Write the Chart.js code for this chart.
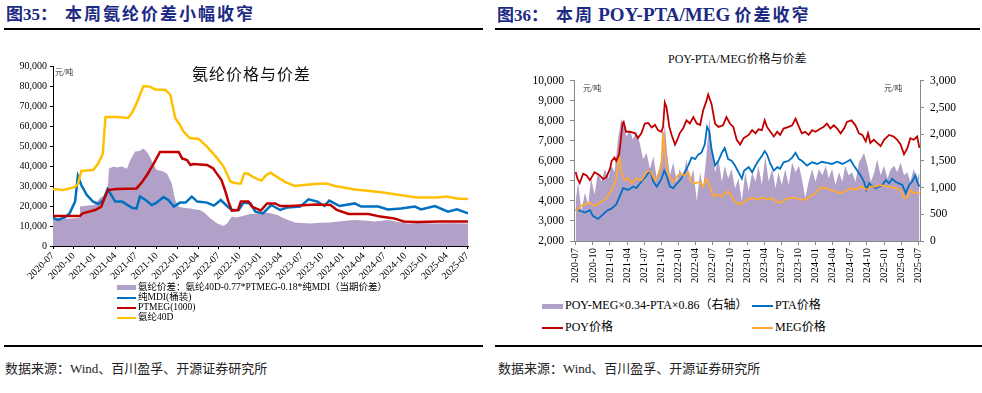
<!DOCTYPE html>
<html lang="zh">
<head>
<meta charset="UTF-8">
<title>氨纶与POY价差</title>
<script src="https://cdn.jsdelivr.net/npm/chart.js"></script>
<style>
  body { margin: 0; width: 982px; height: 393px; background: #fff; position: relative; overflow: hidden;
         font-family: 'Liberation Serif', 'Noto Sans CJK SC', serif; }
  .abs { position: absolute; white-space: nowrap; }
  .fig-title { top: 5px; font-size: 17px; font-weight: bold; color: #1c2a84; line-height: 20px; }
  .fig-title .cn { letter-spacing: 2px; }
  .fig-title .gap { margin-left: 8px; }
  .fig-title .en { font-size: 19px; }
  .rule { position: absolute; height: 2px; background: #000; }
  .src { top: 358px; font-size: 13px; color: #222; }
  .unit { font-size: 8px; color: #333; }
  .leg { font-size: 9.5px; color: #000; line-height: 10px; }
  .leg2 { font-size: 12px; color: #000; line-height: 14px; }
  .sw { display: inline-block; vertical-align: middle; margin-right: 2px; }
</style>
</head>
<body>
  <!-- 左: 图35 -->
  <div class="abs fig-title" style="left:6px;">图35：<span class="cn gap">本周氨纶价差小幅收窄</span></div>
  <div class="rule" style="left:4px; top:28px; width:479px;"></div>
  <canvas id="leftChart" class="abs" width="480" height="234" style="left:0; top:56px;"></canvas>
  <div class="abs" style="left:192px; top:61px; font-size:16px; font-family:'Noto Sans CJK SC'; color:#111; letter-spacing:1px;">氨纶价格与价差</div>
  <div class="abs unit" style="left:55px; top:66px;">元/吨</div>
  <div class="abs leg" style="left:117px; top:282px;">
    <div><span class="sw" style="width:19px;height:5px;background:#b1a0c7;"></span>氨纶价差：氨纶40D-0.77*PTMEG-0.18*纯MDI（当期价差）</div>
    <div><span class="sw" style="width:19px;height:2px;background:#0070c0;"></span>纯MDI(桶装)</div>
    <div><span class="sw" style="width:19px;height:2px;background:#c00000;"></span>PTMEG(1000)</div>
    <div><span class="sw" style="width:19px;height:2px;background:#ffc000;"></span>氨纶40D</div>
  </div>
  <div class="rule" style="left:4px; top:345px; width:479px; height:1.5px;"></div>
  <div class="abs src" style="left:5px;">数据来源：Wind、百川盈孚、开源证券研究所</div>

  <!-- 右: 图36 -->
  <div class="abs fig-title" style="left:497px;">图36：<span class="cn gap">本周</span> <span class="en">POY-PTA/MEG</span> <span class="cn">价差收窄</span></div>
  <div class="rule" style="left:495px; top:28px; width:485px;"></div>
  <div class="abs" style="left:668px; top:49px; font-size:12px; color:#111;">POY-PTA/MEG价格与价差</div>
  <canvas id="rightChart" class="abs" width="487" height="222" style="left:495px; top:68px;"></canvas>
  <div class="abs unit" style="left:583px; top:82px;">元/吨</div>
  <div class="abs unit" style="left:884px; top:82px;">元/吨</div>
  <div class="abs leg2" style="left:542px; top:298px;"><span class="sw" style="width:21px;height:5px;background:#b1a0c7;"></span>POY-MEG×0.34-PTA×0.86（右轴）</div>
  <div class="abs leg2" style="left:752px; top:298px;"><span class="sw" style="width:21px;height:2px;background:#0070c0;"></span>PTA价格</div>
  <div class="abs leg2" style="left:542px; top:320px;"><span class="sw" style="width:21px;height:2px;background:#c00000;"></span>POY价格</div>
  <div class="abs leg2" style="left:752px; top:320px;"><span class="sw" style="width:21px;height:2px;background:#ffa833;"></span>MEG价格</div>
  <div class="rule" style="left:495px; top:345px; width:487px; height:1.5px;"></div>
  <div class="abs src" style="left:498px;">数据来源：Wind、百川盈孚、开源证券研究所</div>

<script>
  // x 轴: 以 2020-07 为 0 的月份数
  const quarterLabels = ['2020-07','2020-10','2021-01','2021-04','2021-07','2021-10','2022-01','2022-04',
    '2022-07','2022-10','2023-01','2023-04','2023-07','2023-10','2024-01','2024-04','2024-07','2024-10',
    '2025-01','2025-04','2025-07'];
  const quarterMonths = quarterLabels.map((_, i) => i * 3);

  // 图35 数据 [月份, 元/吨]
  const spandexSpread = [[0,13500],[1,13000],[2,13600],[3.8,14000],[3.9,19700],[5,20300],[6,20500],[6.8,24000],
    [7.5,25500],[7.9,26500],[8.1,38800],[8.8,39800],[9.2,39200],[10,39700],[10.7,38600],[11.2,43000],[11.9,47200],
    [12.5,47500],[13.1,48800],[13.6,47000],[14,44700],[14.6,40500],[15,38000],[15.8,37500],[16.5,36300],[17.2,31300],
    [17.7,23000],[18.2,19700],[19,19000],[19.9,18800],[20.6,18300],[21.3,18000],[22,16500],[22.8,13800],[23.8,11300],
    [24.7,10000],[25.2,11300],[25.9,14700],[26.5,14300],[27.2,14700],[28,15500],[28.6,16000],[30,16300],[30.8,16800],
    [31.6,16300],[32.5,15500],[33.5,13800],[35,11800],[36,11500],[37.3,11300],[38.8,11600],[40.2,11800],[42,12500],
    [43.7,13000],[45,12800],[46.6,12200],[48.5,13000],[50,12000],[51.4,11300],[53,11500],[55.3,11300],[57.5,11400],[60.1,11300]];
  const pureMdi = [[0,14000],[0.7,13000],[1.7,14300],[2.4,16300],[3.2,22200],[3.6,35000],[4.1,30500],[4.9,25500],
    [5.8,22200],[6.6,21000],[7.3,23000],[7.9,28500],[8.3,26300],[9,22200],[10,22200],[11.5,19000],[12.1,18800],
    [12.6,24800],[13.3,23300],[14.3,20500],[15,21700],[16,24500],[16.7,23000],[17.5,19700],[18.4,21700],[19.2,21700],
    [20.1,24700],[20.9,22200],[22.3,21700],[23.3,20200],[24.3,23000],[25.2,20000],[25.9,18000],[26.9,18000],
    [27.6,21700],[28.6,21300],[29.3,17200],[30.4,16300],[31.6,20500],[32.9,18000],[33.9,19200],[35.8,19700],
    [37,23300],[38.3,22200],[39.3,20000],[40,22700],[41.5,20000],[43.7,21300],[44.6,19700],[47.1,19700],[48.5,18300],
    [50.4,18800],[52.4,19700],[53.3,18300],[55.3,20000],[57.2,17200],[58.5,18300],[60.1,16300]];
  const ptmeg = [[0,15000],[3.9,15000],[4.3,16300],[6.1,18000],[7,19700],[7.5,24300],[8,28000],[9.2,28500],
    [12.1,28800],[12.9,32000],[13.6,35500],[14.6,41300],[15.5,47000],[18.2,47000],[18.7,43800],[19.4,43000],
    [19.9,40500],[20.3,41000],[22.3,40500],[23.2,38800],[23.7,36300],[24.4,33000],[24.9,28000],[25.4,22200],
    [25.9,17700],[26.8,18000],[27.2,22200],[28.3,22200],[28.8,19700],[30.1,17700],[31,21300],[32.2,21300],
    [32.9,20000],[34.4,20000],[36.8,20500],[38,20800],[40.2,20500],[41.1,18000],[42.8,16000],[45.7,16000],
    [47.4,14700],[49.4,13800],[50.8,12300],[52.7,12000],[56.1,12200],[60.1,12200]];
  const spandex40D = [[0,28500],[1.5,28000],[3.2,29500],[3.6,31000],[4.1,37500],[5.8,38000],[6.5,41000],[7.2,46000],
    [7.6,64500],[9.2,64500],[10.9,64000],[11.5,67000],[12.1,71300],[13.1,80000],[14,79700],[14.8,78300],[16.3,78000],
    [17,75500],[17.7,64000],[18.3,61000],[18.9,57200],[19.8,54000],[21.1,53500],[22.3,49700],[23.8,43800],[24.7,39700],
    [25.7,32200],[26.7,31300],[27.2,31300],[27.7,36300],[28.2,36300],[28.9,34700],[29.4,33800],[30.2,32700],
    [30.9,35500],[31.5,36700],[33.5,32200],[35,30000],[37.8,31000],[39.6,31300],[40.8,30000],[43.7,28300],
    [45.9,27500],[47.8,26700],[50.2,25500],[52.7,24200],[55.6,24200],[57,24700],[58.5,23800],[60.1,23500]];

  // 图36 数据 [月份, 元/吨]
  const poyPrice = [[0,5450],[0.3,5120],[0.7,4900],[1.3,5360],[1.9,5280],[2.5,5040],[3.3,5440],[4.2,5280],[4.8,5090],
    [5.4,5200],[6,5600],[6.3,6000],[6.8,6170],[7.1,6000],[7.6,6330],[7.9,7060],[8.2,7870],[8.4,7950],[8.8,7460],
    [9.5,7460],[10.4,7380],[10.9,7140],[11.5,7380],[12.1,7870],[12.7,7900],[13.3,7670],[13.9,7800],[14.4,7540],
    [15,7460],[15.3,7700],[15.6,8920],[15.9,8680],[16.4,7700],[16.8,7300],[17.4,6820],[17.8,7060],[18.2,7380],
    [18.8,7620],[19.4,8030],[20,7870],[20.6,8190],[21.2,7870],[21.8,7800],[22.3,8510],[22.9,9000],[23.2,9320],
    [23.8,8840],[24.4,7870],[25,7700],[25.8,7780],[26.4,8190],[27,7870],[27.6,7700],[28.2,7060],[28.8,6820],
    [29.4,7140],[30.3,7300],[30.9,7540],[31.5,7380],[32,7580],[32.6,7540],[33.1,8030],[33.5,7700],[34.1,7460],
    [34.7,7220],[35.3,7460],[35.8,7300],[36.4,7620],[37.3,7700],[37.9,7780],[38.5,8110],[39.1,7700],[39.6,7380],
    [40.2,7460],[40.8,7300],[41.4,7540],[42,7460],[42.9,7620],[43.4,7700],[44,7870],[44.6,7620],[45.2,7780],
    [45.8,7620],[46.4,7380],[47,7620],[47.5,7950],[48.3,8030],[49,7780],[49.6,7380],[50.2,7300],[50.8,6980],
    [51.2,7380],[51.6,6900],[52.2,7060],[52.8,6900],[53.4,6740],[54,7060],[54.9,7300],[55.7,7220],[56.3,7060],
    [56.9,6820],[57.5,6330],[58.1,6650],[58.6,7140],[59.2,7060],[59.8,7220],[60.2,6650]];
  const ptaPrice = [[0,3580],[0.9,3500],[1.6,3420],[2.5,3540],[3,3260],[3.9,3100],[4.5,3260],[5.4,3500],[6.3,3630],
    [7.1,3830],[7.7,4230],[8.3,4640],[9.2,4550],[10.1,4720],[10.6,4640],[11.5,4960],[12.4,5280],[13,5520],[13.6,4960],
    [14.2,4720],[15,5090],[15.5,5520],[15.9,5280],[16.5,4720],[17.1,4640],[17.5,4800],[18,4960],[18.5,5120],
    [19.1,5440],[19.7,5770],[20.3,6170],[20.9,6090],[21.5,6330],[22,6410],[22.6,6820],[23,7700],[23.4,7460],
    [23.8,6570],[24.4,5770],[25,6010],[25.6,6410],[26.1,6650],[26.7,6090],[27.3,6010],[27.9,5770],[28.5,5440],
    [29.1,5120],[29.5,5520],[30.3,5690],[30.9,5440],[31.5,5770],[32,6010],[32.6,6250],[33.1,6490],[33.5,6330],
    [34.1,5850],[34.7,5520],[35.3,5690],[35.8,5610],[36.4,5930],[37.3,6010],[37.9,6170],[38.5,6410],[39.1,6090],
    [39.6,6010],[40.5,5770],[41.4,5930],[42.3,5850],[43.1,5960],[44,5900],[44.9,5850],[45.8,5960],[46.7,5850],
    [47.5,5960],[48.1,6060],[48.7,5770],[49.3,5520],[49.9,5280],[50.5,4960],[50.9,4550],[51.4,4880],[52,4720],
    [52.6,4640],[53.1,4720],[53.7,4800],[54.3,5040],[54.9,4880],[55.4,5120],[56,4960],[56.6,4880],[57.2,4800],
    [57.8,4390],[58.4,4800],[58.9,4960],[59.5,5280],[59.8,4960],[60.2,4720]];
  const megPrice = [[0,3500],[0.9,3750],[1.6,3830],[2.5,3910],[3.3,3750],[4.2,3910],[5.1,4070],[6,4390],[6.5,4640],
    [7.1,5120],[7.6,6330],[8,5440],[8.6,5040],[9.2,5120],[9.8,4880],[10.6,5120],[11.5,5040],[12.4,5440],[13,5520],
    [13.9,5040],[14.4,5280],[15,5770],[15.3,7460],[15.6,6490],[16,5520],[16.5,5120],[17.1,4960],[17.7,5200],
    [18.2,5360],[19.1,5280],[19.7,5440],[20.3,4960],[20.9,4880],[21.8,4960],[22.3,4720],[22.9,5120],[23.5,4720],
    [24.1,4230],[24.7,4310],[25.6,4230],[26.4,4470],[27,4390],[27.6,4070],[28.5,3830],[29.4,3910],[30,4070],
    [30.9,4150],[31.8,4070],[32.6,4180],[33.5,4070],[34.4,4150],[35,3990],[35.8,3910],[36.7,4070],[37.6,4150],
    [38.5,4150],[39.4,4070],[40.3,4070],[41.1,4230],[42,4390],[42.9,4670],[43.8,4640],[44.6,4550],[45.5,4470],
    [46.4,4390],[47.3,4510],[48.1,4640],[49,4550],[49.9,4720],[50.5,4640],[51.1,4550],[51.6,4720],[52.6,4720],
    [53.4,4800],[54.3,4720],[55.2,4720],[56,4640],[56.9,4550],[57.5,4150],[58.1,4180],[58.6,4550],[59.2,4390],
    [59.8,4440],[60.2,4340]];
  // 右轴
  const poySpread = [[0,750],[0.4,1110],[1,560],[1.6,900],[2.2,690],[2.7,1170],[3.3,870],[3.9,1290],[4.5,1110],
    [5.1,1350],[5.7,1170],[6.3,1410],[6.8,1290],[7.4,1900],[8,2290],[8.4,2200],[8.9,1960],[9.5,2080],[10,1900],
    [10.6,2050],[11.2,1840],[11.8,1530],[12.4,1650],[13,1350],[13.6,1590],[14.2,1170],[14.7,1410],[15.2,1590],
    [15.6,2200],[16,1650],[16.5,1230],[17.1,1470],[17.7,1110],[18.2,1350],[18.8,1170],[19.4,1530],[20,1110],
    [20.6,1350],[21.2,750],[21.8,1290],[22.3,990],[22.9,1590],[23.4,2320],[23.8,1720],[24.4,1290],[25,1530],
    [25.6,1110],[26.1,1410],[26.7,1170],[27.3,1350],[27.9,990],[28.5,1170],[29.1,750],[29.7,1290],[30.3,930],
    [30.9,1290],[31.5,1110],[32,1410],[32.6,1050],[33.2,1590],[33.8,1110],[34.4,1350],[35,990],[35.5,1290],
    [36.1,1050],[36.7,1350],[37.3,1050],[37.9,1470],[38.5,1290],[39.1,1410],[39.6,1170],[40.2,810],[40.8,1110],
    [41.4,1350],[42,1110],[42.6,1350],[43.2,1230],[43.8,1410],[44.3,1170],[44.9,1350],[45.5,1050],[46.1,1290],
    [46.7,1110],[47.2,1410],[47.8,1230],[48.4,1290],[49,1110],[49.6,1470],[50.2,1590],[50.5,1650],[51.1,1410],
    [51.7,1110],[52.3,1290],[52.8,1530],[53.4,1230],[54,1410],[54.6,1170],[55.2,1350],[55.8,1410],[56.3,1290],
    [56.9,1470],[57.5,1230],[58.1,1290],[58.6,1110],[59.2,1350],[59.8,1170],[60.2,1290]];

  const pts = arr => arr.map(([x, y]) => ({ x, y }));
  const serif = { family: 'Liberation Serif' };
  const numFmt = v => v === 0 ? '0' : v.toLocaleString('en-US');

  function lineSet(label, arr, color, width, order, axis) {
    return { label, data: pts(arr), borderColor: color, borderWidth: width, pointRadius: 0,
             fill: false, tension: 0, order, yAxisID: axis || 'y' };
  }

  new Chart(document.getElementById('leftChart'), {
    type: 'line',
    data: {
      datasets: [
        { label: '氨纶价差', data: pts(spandexSpread), borderWidth: 0, pointRadius: 0,
          backgroundColor: '#b1a0c7', fill: 'origin', order: 9 },
        lineSet('纯MDI(桶装)', pureMdi, '#0070c0', 2.5, 3),
        lineSet('PTMEG(1000)', ptmeg, '#c00000', 2.5, 2),
        lineSet('氨纶40D', spandex40D, '#ffc000', 2.5, 1)
      ]
    },
    options: {
      responsive: false, animation: false,
      layout: { padding: { top: 10, right: 12, left: 0, bottom: 0 } },
      plugins: { legend: { display: false }, tooltip: { enabled: false } },
      scales: {
        x: {
          type: 'linear', min: 0, max: 60.1,
          afterBuildTicks: s => { s.ticks = quarterMonths.map(v => ({ value: v })); },
          afterFit: s => { s.height = 44; },
          ticks: { callback: v => quarterLabels[Math.round(v / 3)], autoSkip: false,
                   maxRotation: 45, minRotation: 45, padding: 1,
                   font: { ...serif, size: 10 }, color: '#000' },
          grid: { drawOnChartArea: false, tickLength: 3, color: '#000' },
          border: { color: '#000' }
        },
        y: {
          min: 0, max: 90000,
          afterFit: s => { s.width = 53; },
          ticks: { stepSize: 10000, callback: numFmt, font: { ...serif, size: 10 }, color: '#000', padding: 3 },
          grid: { drawOnChartArea: false, tickLength: 3, color: '#000' },
          border: { color: '#000' }
        }
      }
    }
  });

  new Chart(document.getElementById('rightChart'), {
    type: 'line',
    data: {
      datasets: [
        { label: 'POY-MEG×0.34-PTA×0.86（右轴）', data: pts(poySpread), borderWidth: 0, pointRadius: 0,
          backgroundColor: '#b1a0c7', fill: 'origin', order: 9, yAxisID: 'y1' },
        lineSet('PTA价格', ptaPrice, '#0070c0', 1.8, 3),
        lineSet('MEG价格', megPrice, '#ffa833', 1.8, 2),
        lineSet('POY价格', poyPrice, '#c00000', 1.8, 1)
      ]
    },
    options: {
      responsive: false, animation: false,
      layout: { padding: { top: 8, right: 0, left: 0, bottom: 0 } },
      plugins: { legend: { display: false }, tooltip: { enabled: false } },
      scales: {
        x: {
          type: 'linear', min: -0.3, max: 60.3,
          afterBuildTicks: s => { s.ticks = quarterMonths.map(v => ({ value: v })); },
          afterFit: s => { s.height = 49; },
          ticks: { callback: v => quarterLabels[Math.round(v / 3)], autoSkip: false,
                   maxRotation: 90, minRotation: 90, padding: 3,
                   font: { ...serif, size: 10.5 }, color: '#000' },
          grid: { drawOnChartArea: false, tickLength: 4, color: '#888' },
          border: { color: '#888' }
        },
        y: {
          min: 2000, max: 10000,
          afterFit: s => { s.width = 79; },
          ticks: { stepSize: 1000, callback: numFmt, font: { ...serif, size: 11.5 }, color: '#000', padding: 6 },
          grid: { drawOnChartArea: false, tickLength: 4, color: '#888' },
          border: { color: '#888' }
        },
        y1: {
          position: 'right', min: 0, max: 3000,
          afterFit: s => { s.width = 62; },
          ticks: { stepSize: 500, callback: numFmt, font: { ...serif, size: 11.5 }, color: '#000', padding: 6 },
          grid: { drawOnChartArea: false, tickLength: 4, color: '#888' },
          border: { color: '#888' }
        }
      }
    }
  });
</script>
</body>
</html>
